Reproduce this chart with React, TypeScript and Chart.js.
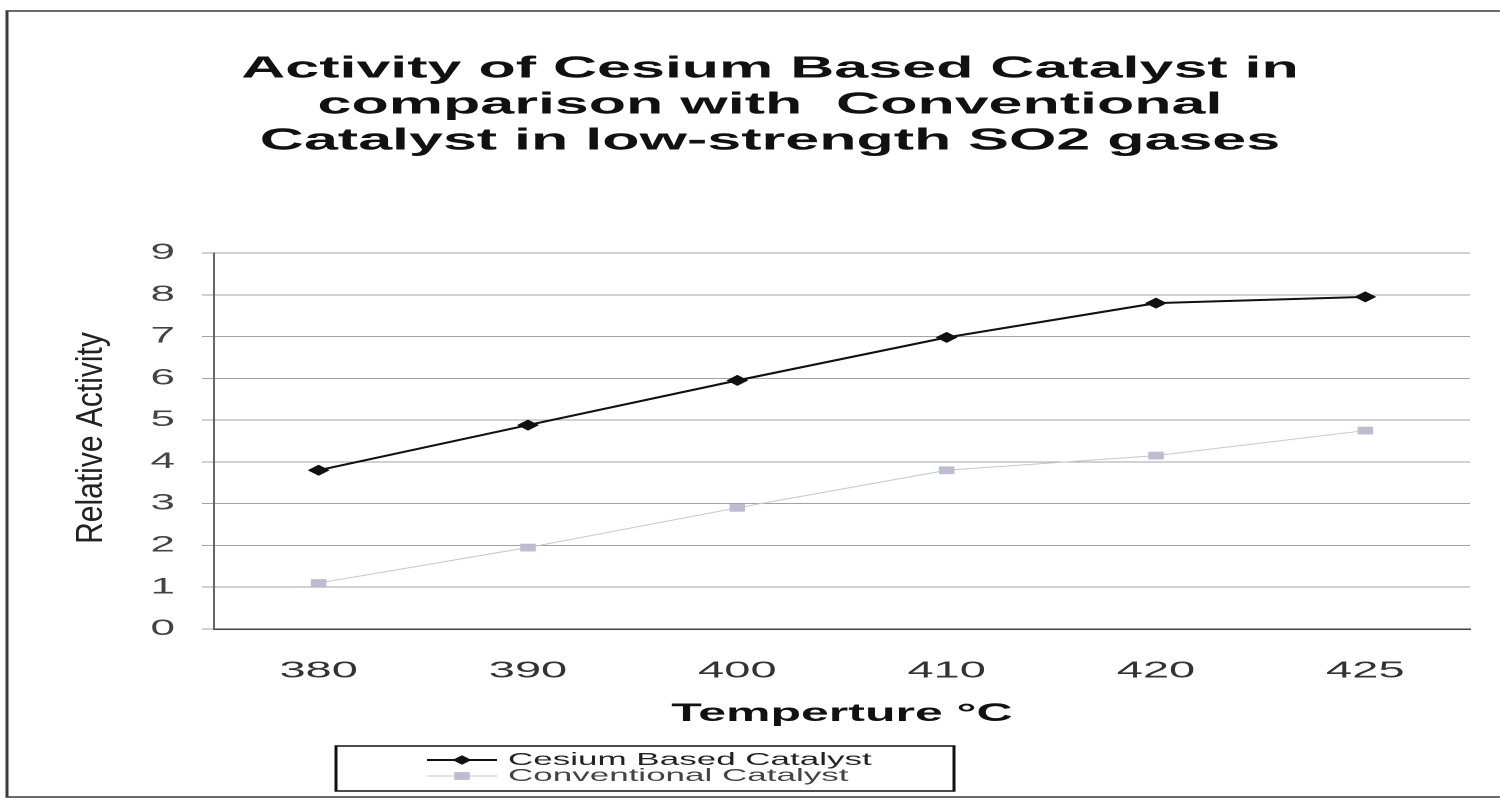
import { useEffect, useRef } from 'react';
import { Chart, registerables } from 'chart.js';

Chart.register(...registerables);

// ---- data ----
const temperatures = ['380', '390', '400', '410', '420', '425'];
const cesiumActivity = [3.8, 4.88, 5.95, 6.98, 7.8, 7.95];
const conventionalActivity = [1.1, 1.95, 2.9, 3.8, 4.15, 4.75];
const yMin = 0;
const yMax = 9;
const yStep = 1;
const seriesNames = ['Cesium Based Catalyst', 'Conventional Catalyst'];
const titleLines = [
  'Activity of Cesium Based Catalyst in',
  'comparison with  Conventional',
  'Catalyst in low-strength SO2 gases',
];
const xTitle = 'Temperture °C';
const yTitle = 'Relative Activity';

const FAMILY = '"Liberation Sans", Arial, Helvetica, sans-serif';

const decorPlugin = {
  id: 'decor',
  beforeDraw(chart: any) {
    const { ctx, width, height } = chart;
    ctx.save();
    ctx.fillStyle = '#ffffff';
    ctx.fillRect(0, 0, width, height);
    ctx.strokeStyle = '#3a3a3a';
    ctx.lineWidth = 1.5;
    ctx.strokeRect(3.5, 11, width + 20, 786);
    ctx.restore();
  },
  afterDraw(chart: any) {
    const { ctx, chartArea } = chart;
    // rotated y-axis title
    ctx.save();
    ctx.translate(chartArea.left - 61, (chartArea.top + chartArea.bottom) / 2 - 3);
    ctx.rotate(-Math.PI / 2);
    ctx.scale(1, 0.62);
    ctx.font = `30px ${FAMILY}`;
    ctx.fillStyle = '#222';
    ctx.textAlign = 'center';
    ctx.textBaseline = 'middle';
    ctx.fillText(yTitle, 0, 0);
    ctx.restore();

    // boxed legend, items stacked
    const box = { left: 168, right: 477, top: 746, bottom: 791 };
    ctx.save();
    ctx.strokeStyle = '#111';
    ctx.lineWidth = 1.5;
    ctx.strokeRect(box.left, box.top, box.right - box.left, box.bottom - box.top);
    const lineX0 = 213.5;
    const lineX1 = 248.5;
    const textX = 254;
    chart.data.datasets.forEach((ds: any, i: number) => {
      const y = 760 + i * 16;
      ctx.strokeStyle = ds.borderColor;
      ctx.lineWidth = ds.borderWidth;
      ctx.beginPath();
      ctx.moveTo(lineX0, y);
      ctx.lineTo(lineX1, y);
      ctx.stroke();
      const cx = (lineX0 + lineX1) / 2;
      ctx.fillStyle = ds.pointBackgroundColor;
      ctx.beginPath();
      if (ds.pointStyle === 'rectRot') {
        const r = ds.pointRadius;
        ctx.moveTo(cx - r, y);
        ctx.lineTo(cx, y - r);
        ctx.lineTo(cx + r, y);
        ctx.lineTo(cx, y + r);
        ctx.closePath();
      } else {
        const s = ds.pointRadius * Math.SQRT1_2;
        ctx.rect(cx - s, y - s, 2 * s, 2 * s);
      }
      ctx.fill();
      ctx.font = `17.5px ${FAMILY}`;
      ctx.fillStyle = i === 0 ? '#222' : '#444';
      ctx.textAlign = 'left';
      ctx.textBaseline = 'middle';
      ctx.fillText(ds.label, textX, y);
    });
    ctx.restore();
  },
};

export default function App() {
  const canvasRef = useRef<HTMLCanvasElement | null>(null);

  useEffect(() => {
    document.body.style.margin = '0';
    const canvas = canvasRef.current!;
    const chart = new Chart(canvas, {
      type: 'line',
      data: {
        labels: temperatures,
        datasets: [
          {
            label: seriesNames[0],
            data: cesiumActivity,
            borderColor: '#111111',
            borderWidth: 2,
            pointStyle: 'rectRot',
            pointRadius: 4.8,
            pointBackgroundColor: '#111111',
            pointBorderColor: '#111111',
            pointBorderWidth: 1,
            tension: 0,
            fill: false,
          },
          {
            label: seriesNames[1],
            data: conventionalActivity,
            borderColor: '#c6c6d8',
            borderWidth: 1,
            pointStyle: 'rect',
            pointRadius: 5.5,
            pointBackgroundColor: '#bcbcd2',
            pointBorderColor: '#bcbcd2',
            pointBorderWidth: 0,
            tension: 0,
            fill: false,
          },
        ],
      },
      options: {
        responsive: false,
        animation: false,
        devicePixelRatio: 2,
        layout: { padding: { left: 35, right: 15, top: 0, bottom: 73 } },
        plugins: {
          legend: { display: false },
          tooltip: { enabled: false },
          title: {
            display: true,
            text: titleLines,
            color: '#111',
            font: { family: FAMILY, size: 30.5, weight: 'bold', lineHeight: 36 / 30.5 },
            padding: { top: 51, bottom: 94 },
          },
        },
        scales: {
          x: {
            type: 'category',
            offset: true,
            grid: { display: false, drawTicks: false, tickLength: 0 },
            border: { display: true, color: '#444', width: 1.5 },
            ticks: {
              color: '#333',
              font: { family: FAMILY, size: 23.5 },
              padding: 28,
              maxRotation: 0,
              autoSkip: false,
            },
            title: {
              display: true,
              text: xTitle,
              color: '#111',
              font: { family: FAMILY, size: 25, weight: 'bold' },
              padding: { top: 0, bottom: 0 },
            },
            afterFit: (scale: any) => {
              scale.height = 100;
            },
          },
          y: {
            min: yMin,
            max: yMax,
            ticks: {
              stepSize: yStep,
              color: '#444',
              font: { family: FAMILY, size: 22 },
              padding: 13.5,
            },
            grid: { color: '#a3a3a3', lineWidth: 1, drawTicks: true, tickLength: 6 },
            border: { display: true, color: '#666', width: 1 },
            afterFit: (scale: any) => {
              scale.width = 72;
            },
          },
        },
      },
      plugins: [decorPlugin],
    });
    return () => chart.destroy();
  }, []);

  return (
    <div>
      <canvas
        ref={canvasRef}
        width={750}
        height={802}
        style={{ position: 'fixed', left: 0, top: 0, width: '1500px', height: '802px' }}
      />
    </div>
  );
}
